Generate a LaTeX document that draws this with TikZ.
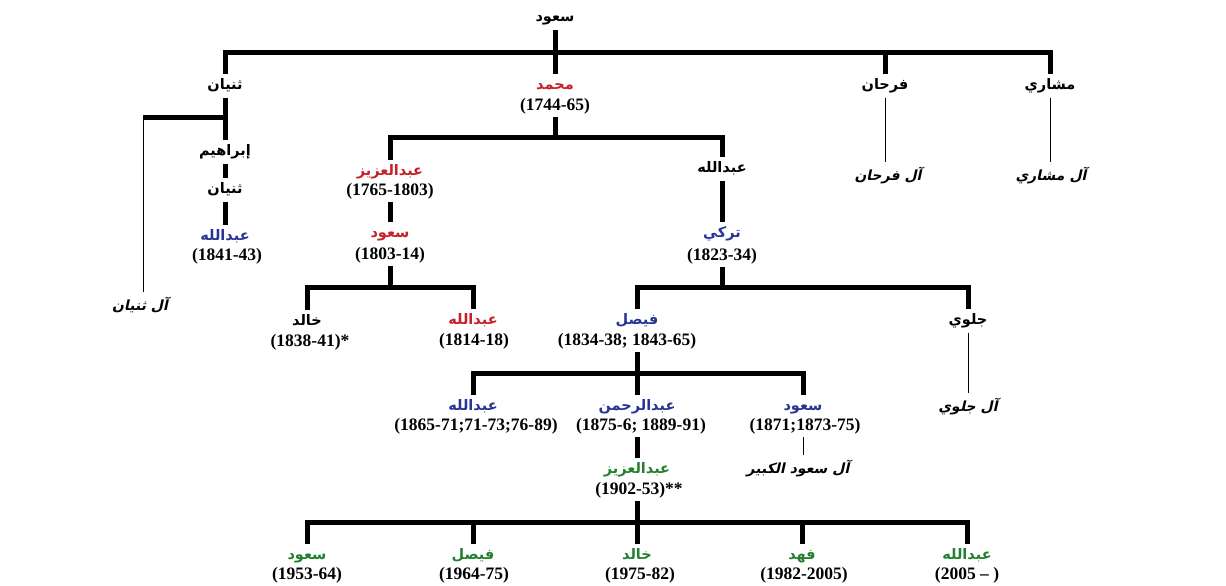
\documentclass[tikz,border=0pt]{standalone}
\usepackage{fontspec}
\setmainfont{Liberation Serif}
\TeXXeTstate=1
\newfontfamily\arbb[Script=Arabic]{DejaVu Sans Bold}
\newfontfamily\arbi[Script=Arabic,FakeSlant=0.22]{DejaVu Sans Bold}
\definecolor{kred}{RGB}{200,32,40}
\definecolor{kblue}{RGB}{40,52,150}
\definecolor{kgreen}{RGB}{36,128,48}
\tikzset{
  nm/.style={font=\arbb\fontsize{14.5}{16}\selectfont, text height=9.5pt, text depth=3pt, inner xsep=2pt, inner ysep=5.25pt},
  yr/.style={font=\bfseries\fontsize{17.5}{20}\selectfont, text height=12.5pt, text depth=4pt, inner xsep=1pt, inner ysep=2.75pt},
  fam/.style={font=\arbi\fontsize{14}{16}\selectfont, text height=9.5pt, text depth=3pt, inner xsep=2pt, inner ysep=9pt},
  thk/.style={line width=5pt, line join=miter},
  thn/.style={line width=1pt},
}
\begin{document}
\begin{tikzpicture}[x=1pt,y=-1pt]
\useasboundingbox[fill=white] (0,0) rectangle (1226,586);
% ---- names
\node[nm] (saud0) at (555,18) {\beginR سعود\endR};
\node[nm] (thunayan) at (225,86) {\beginR ثنيان\endR};
\node[nm,kred] (muhammad) at (555,86) {\beginR محمد\endR};
\node[yr] (muhammady) at (555,106) {(1744-65)};
\node[nm] (farhan) at (885,86) {\beginR فرحان\endR};
\node[nm] (mishari) at (1050,86) {\beginR مشاري\endR};
\node[fam] (alfarhan) at (888,177) {\beginR آل فرحان\endR};
\node[fam] (almishari) at (1051,177) {\beginR آل مشاري\endR};
\node[nm] (ibrahim) at (225,152) {\beginR إبراهيم\endR};
\node[nm] (thunayanb) at (225,190) {\beginR ثنيان\endR};
\node[nm,kblue] (abdallaha) at (225,237) {\beginR عبدالله\endR};
\node[yr] (abdallahay) at (227,256) {(1841-43)};
\node[fam] (althunayan) at (140,307) {\beginR آل ثنيان\endR};
\node[nm,kred] (abdulaziza) at (390,172) {\beginR عبدالعزيز\endR};
\node[yr] (abdulazizay) at (390,191) {(1765-1803)};
\node[nm] (abdallahz) at (722,169) {\beginR عبدالله\endR};
\node[nm,kred] (sauda) at (390,234) {\beginR سعود\endR};
\node[yr] (sauday) at (390,255) {(1803-14)};
\node[nm,kblue] (turki) at (722,234) {\beginR تركي\endR};
\node[yr] (turkiy) at (722,256) {(1823-34)};
\node[nm] (khalida) at (307,322) {\beginR خالد\endR};
\node[yr] (khaliday) at (310,342) {(1838-41)*};
\node[nm,kred] (abdallahb) at (473,321) {\beginR عبدالله\endR};
\node[yr] (abdallahby) at (474,341) {(1814-18)};
\node[nm,kblue] (faisala) at (637,321) {\beginR فيصل\endR};
\node[yr] (faisalay) at (627,341) {(1834-38; 1843-65)};
\node[nm] (jalawi) at (968,321) {\beginR جلوي\endR};
\node[fam] (aljalawi) at (968,408) {\beginR آل جلوي\endR};
\node[nm,kblue] (abdallahc) at (473,407) {\beginR عبدالله\endR};
\node[yr] (abdallahcy) at (476,426) {(1865-71;71-73;76-89)};
\node[nm,kblue] (abdulrahman) at (637,407) {\beginR عبدالرحمن\endR};
\node[yr] (abdulrahmany) at (641,426) {(1875-6; 1889-91)};
\node[nm,kblue] (saudb) at (803,407) {\beginR سعود\endR};
\node[yr] (saudby) at (805,426) {(1871;1873-75)};
\node[fam] (alsaudkabir) at (798,470) {\beginR آل سعود الكبير\endR};
\node[nm,kgreen] (abdulazizb) at (637,470) {\beginR عبدالعزيز\endR};
\node[yr] (abdulazizby) at (639,490) {(1902-53)**};
\node[nm,kgreen] (saudc) at (307,556) {\beginR سعود\endR};
\node[yr] (saudcy) at (307,575) {(1953-64)};
\node[nm,kgreen] (faisalb) at (473,556) {\beginR فيصل\endR};
\node[yr] (faisalby) at (474,575) {(1964-75)};
\node[nm,kgreen] (khalidb) at (637,556) {\beginR خالد\endR};
\node[yr] (khalidby) at (640,575) {(1975-82)};
\node[nm,kgreen] (fahd) at (802,556) {\beginR فهد\endR};
\node[yr] (fahdy) at (804,575) {(1982-2005)};
\node[nm,kgreen] (abdallahd) at (967,556) {\beginR عبدالله\endR};
\node[yr] (abdallahdy) at (967,575) {(2005 – )};
% ---- bar coordinates
\coordinate (bar0) at (555,53);
\coordinate (bar1) at (225,117);
\coordinate (bar2) at (555,137);
\coordinate (bar3) at (390,287);
\coordinate (bar4) at (722,287);
\coordinate (bar5) at (637,373);
\coordinate (bar6) at (637,522);
\coordinate (thn1) at (143,117);
% ---- connectors
\draw[thk] (saud0) -- (muhammad);
\draw[thk] (thunayan.north) |- (bar0) -| (mishari.north);
\draw[thk] (farhan.north) -- (farhan.north |- bar0);
\draw[thn] (farhan.south) -- (farhan.south |- alfarhan.north);
\draw[thn] (mishari.south) -- (mishari.south |- almishari.north);
\draw[thk] (thunayan) -- (ibrahim);
\draw[thk] (thn1) -- (bar1);
\draw[thn] (thn1) -- (thn1 |- althunayan.north);
\draw[thk] (ibrahim) -- (thunayanb);
\draw[thk] (thunayanb) -- (abdallaha);
\draw[thk] (muhammady.south) -- (bar2);
\draw[thk] (abdulaziza.north) |- (bar2) -| (abdallahz.north);
\draw[thk] (abdulazizay.south) -- (sauda.north);
\draw[thk] (sauday.south) -- (bar3);
\draw[thk] (khalida.north) |- (bar3) -| (abdallahb.north);
\draw[thk] (abdallahz) -- (turki);
\draw[thk] (turkiy.south) -- (bar4);
\draw[thk] (faisala.north) |- (bar4) -| (jalawi.north);
\draw[thn] (jalawi.south) -- (jalawi.south |- aljalawi.north);
\draw[thk] (faisala |- faisalay.south) -- (bar5);
\draw[thk] (abdallahc.north) |- (bar5) -| (saudb.north);
\draw[thk] (abdulrahman.north) -- (abdulrahman.north |- bar5);
\draw[thn] (saudb |- saudby.south) -- (alsaudkabir.north -| saudb);
\draw[thk] (abdulrahman |- abdulrahmany.south) -- (abdulazizb.north);
\draw[thk] (abdulazizb |- abdulazizby.south) -- (bar6);
\draw[thk] (saudc.north) |- (bar6) -| (abdallahd.north);
\draw[thk] (faisalb.north) -- (faisalb.north |- bar6);
\draw[thk] (khalidb.north) -- (khalidb.north |- bar6);
\draw[thk] (fahd.north) -- (fahd.north |- bar6);
\end{tikzpicture}
\end{document}
